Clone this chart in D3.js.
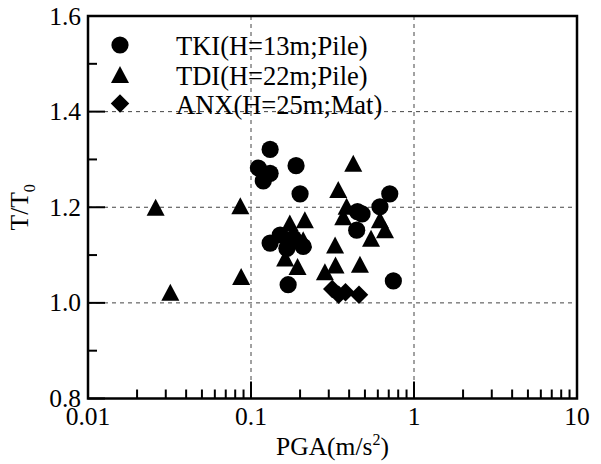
<!DOCTYPE html>
<html>
<head>
<meta charset="utf-8">
<title>T/T0 vs PGA</title>
<script src="https://cdn.jsdelivr.net/npm/d3@7"></script>
<style>
  body { margin: 0; background: #fff; }
  text { font-family: "Liberation Serif", "Times New Roman", serif; fill: #000; }
</style>
</head>
<body>
<svg id="chart" width="601" height="464"></svg>

<script type="text/javascript">

// TKI (H=13m; Pile) - circles
var tkiPGA = [0.131, 0.111, 0.131, 0.119, 0.189, 0.200, 0.169, 0.131, 0.151, 0.182, 0.209, 0.166, 0.450, 0.480, 0.445, 0.618, 0.710, 0.747];
var tkiT   = [1.321, 1.282, 1.271, 1.255, 1.287, 1.228, 1.038, 1.125, 1.142, 1.135, 1.118, 1.114, 1.191, 1.186, 1.152, 1.201, 1.228, 1.046];

// TDI (H=22m; Pile) - triangles
var tdiPGA = [0.026, 0.032, 0.086, 0.087, 0.173, 0.214, 0.209, 0.162, 0.193, 0.328, 0.330, 0.284, 0.466, 0.386, 0.368, 0.424, 0.343, 0.618, 0.664, 0.545];
var tdiT   = [1.200, 1.022, 1.203, 1.055, 1.167, 1.174, 1.132, 1.094, 1.076, 1.121, 1.079, 1.065, 1.081, 1.202, 1.180, 1.292, 1.237, 1.174, 1.153, 1.135];

// ANX (H=25m; Mat) - diamonds
var anxPGA = [0.315, 0.345, 0.380, 0.460];
var anxT   = [1.029, 1.017, 1.022, 1.017];

var seriesNames = ["TKI(H=13m;Pile)", "TDI(H=22m;Pile)", "ANX(H=25m;Mat)"];
var xTickValues = [0.01, 0.1, 1, 10];
var xTickLabels = ["0.01", "0.1", "1", "10"];
var yTickValues = [0.8, 1.0, 1.2, 1.4, 1.6];
var yTickLabels = ["0.8", "1.0", "1.2", "1.4", "1.6"];
var xGrid = [0.1, 1];
var yGrid = [1.0, 1.2, 1.4];

var svg = d3.select("#chart");
// plot box (note: "top" is taken by window.top, so use p* names)
var pLeft = 88, pRight = 577, pTop = 16, pBottom = 398.5;

var x = d3.scaleLog().domain([0.01, 10]).range([pLeft, pRight]);
var y = d3.scaleLinear().domain([0.8, 1.6]).range([pBottom, pTop]);

// custom marker shapes
var triangleType = { draw: function(ctx, size) {
  var h = Math.sqrt(size) / 2;
  ctx.moveTo(0, -h); ctx.lineTo(h * 1.06, h); ctx.lineTo(-h * 1.06, h); ctx.closePath();
}};
var diamondType = { draw: function(ctx, size) {
  var h = Math.sqrt(size) / 2;
  ctx.moveTo(0, -h); ctx.lineTo(h, 0); ctx.lineTo(0, h); ctx.lineTo(-h, 0); ctx.closePath();
}};
var circlePath = d3.symbol().type(d3.symbolCircle).size(Math.PI * 8.6 * 8.6)();
var trianglePath = d3.symbol().type(triangleType).size(17 * 17)();
var diamondPath = d3.symbol().type(diamondType).size(18.5 * 18.5)();

// grid lines
var grid = svg.append("g").attr("stroke", "#444").attr("stroke-width", 1).attr("stroke-dasharray", "4,4");
grid.selectAll(".gx").data(xGrid).enter().append("line")
  .attr("x1", function(d){ return x(d); }).attr("x2", function(d){ return x(d); })
  .attr("y1", pTop).attr("y2", pBottom);
grid.selectAll(".gy").data(yGrid).enter().append("line")
  .attr("y1", function(d){ return y(d); }).attr("y2", function(d){ return y(d); })
  .attr("x1", pLeft).attr("x2", pRight);

// x ticks (inside, major + minor)
var xMinor = [];
[0.01, 0.1, 1].forEach(function(dec){ for (var k = 2; k <= 9; k++) xMinor.push(dec * k); });
var ticks = svg.append("g").attr("stroke", "#000").attr("stroke-width", 2);
ticks.selectAll(".xmaj").data(xTickValues).enter().append("line")
  .attr("x1", function(d){ return x(d); }).attr("x2", function(d){ return x(d); })
  .attr("y1", pBottom).attr("y2", pBottom - 17);
ticks.selectAll(".xmin").data(xMinor).enter().append("line")
  .attr("x1", function(d){ return x(d); }).attr("x2", function(d){ return x(d); })
  .attr("y1", pBottom).attr("y2", pBottom - 9);

// y ticks
var yMinor = [0.9, 1.1, 1.3, 1.5];
ticks.selectAll(".ymaj").data(yTickValues).enter().append("line")
  .attr("y1", function(d){ return y(d); }).attr("y2", function(d){ return y(d); })
  .attr("x1", pLeft).attr("x2", pLeft + 17);
ticks.selectAll(".ymin").data(yMinor).enter().append("line")
  .attr("y1", function(d){ return y(d); }).attr("y2", function(d){ return y(d); })
  .attr("x1", pLeft).attr("x2", pLeft + 9);

// frame
svg.append("rect").attr("x", pLeft).attr("y", pTop)
  .attr("width", pRight - pLeft).attr("height", pBottom - pTop)
  .attr("fill", "none").attr("stroke", "#000").attr("stroke-width", 2.5);

// tick labels
svg.selectAll(".xl").data(xTickValues).enter().append("text")
  .attr("x", function(d){ return x(d); }).attr("y", pBottom + 26)
  .attr("text-anchor", "middle").attr("font-size", 25.5)
  .text(function(d, i){ return xTickLabels[i]; });
svg.selectAll(".yl").data(yTickValues).enter().append("text")
  .attr("x", 81).attr("y", function(d){ return y(d) + 8.5; })
  .attr("text-anchor", "end").attr("font-size", 25.5)
  .text(function(d, i){ return yTickLabels[i]; });

// axis titles
var xt = svg.append("text").attr("x", (pLeft + pRight) / 2).attr("y", 455)
  .attr("text-anchor", "middle").attr("font-size", 25.5);
xt.append("tspan").text("PGA(m/s");
xt.append("tspan").attr("dy", -10).attr("font-size", 16).text("2");
xt.append("tspan").attr("dy", 10).text(")");

var yt = svg.append("text").attr("transform", "translate(28," + ((pTop + pBottom) / 2) + ") rotate(-90)")
  .attr("text-anchor", "middle").attr("font-size", 25.5);
yt.append("tspan").text("T/T");
yt.append("tspan").attr("dy", 7).attr("font-size", 16).text("0");

// legend
var legendShapes = [circlePath, trianglePath, diamondPath];
var legendY = [45, 74.5, 103.5];
var legend = svg.append("g");
legend.selectAll("path").data(legendShapes).enter().append("path")
  .attr("d", function(d){ return d; })
  .attr("transform", function(d, i){ return "translate(120," + legendY[i] + ")"; })
  .attr("fill", "#000");
legend.selectAll("text").data(seriesNames).enter().append("text")
  .attr("x", 176).attr("y", function(d, i){ return legendY[i] + 10; })
  .attr("font-size", 26.5)
  .text(function(d){ return d; });

// points
function drawSeries(xs, ys, shape) {
  svg.append("g").selectAll("path").data(xs).enter().append("path")
    .attr("d", shape)
    .attr("transform", function(d, i){ return "translate(" + x(d) + "," + y(ys[i]) + ")"; })
    .attr("fill", "#000");
}
drawSeries(tkiPGA, tkiT, circlePath);
drawSeries(tdiPGA, tdiT, trianglePath);
drawSeries(anxPGA, anxT, diamondPath);

</script>
</body>
</html>
